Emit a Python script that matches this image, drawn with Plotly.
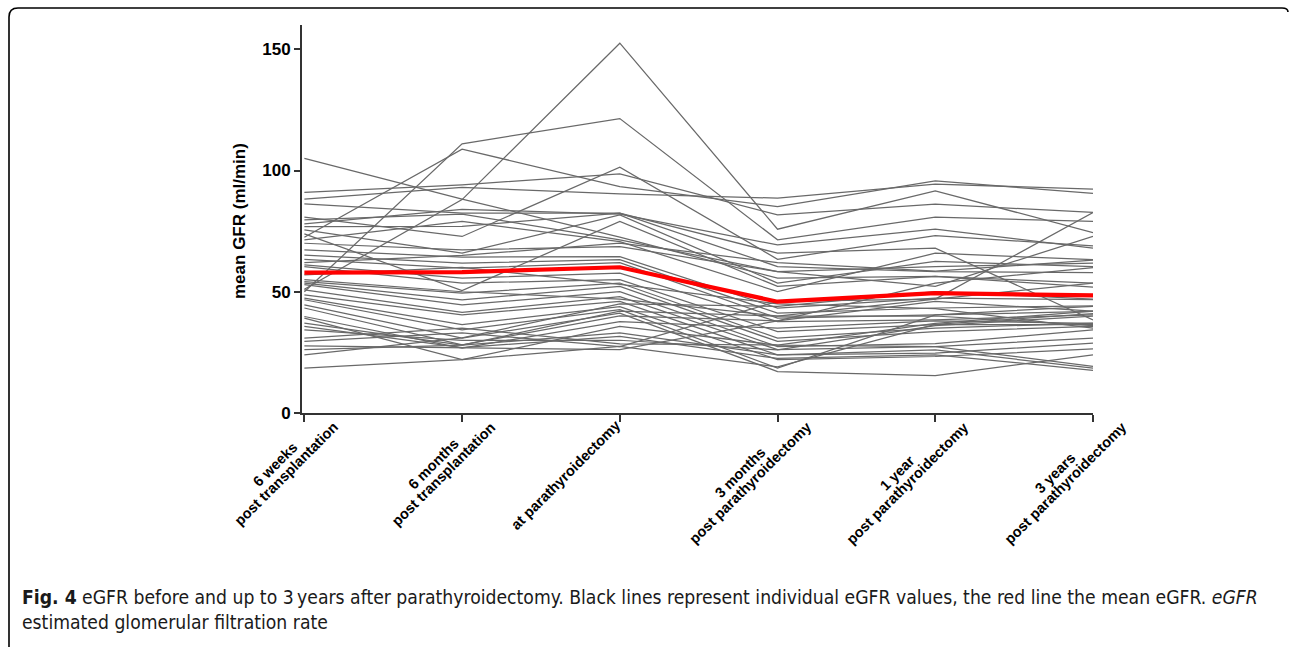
import plotly.graph_objects as go

categories = ["6 weeks post transplantation", "6 months post transplantation",
              "at parathyroidectomy", "3 months post parathyroidectomy",
              "1 year post parathyroidectomy", "3 years post parathyroidectomy"]
label_lines = [["6 weeks", "post transplantation"], ["6 months", "post transplantation"],
               ["at parathyroidectomy"], ["3 months", "post parathyroidectomy"],
               ["1 year", "post parathyroidectomy"], ["3 years", "post parathyroidectomy"]]

# individual eGFR values per time point (one entry per patient)
wk6_post_tx = [51, 50, 105, 72.5, 91, 88.2, 86.2, 80.8, 79.6, 76.9, 75.5, 73.9, 71.4, 70, 67.3,
               65.1, 63.4, 61.1, 60.4, 54.2, 53.6, 52.9, 50.8, 48.7, 47.4, 46.7, 44.6, 43.3, 39.8,
               39.1, 37.1, 35.7, 34.3, 30.9, 29.5, 27.7, 26.1, 24.0, 18.5, 62.0, 57.0, 78.0, 55.0]
mo6_post_tx = [88, 111, 88.2, 108.8, 94.1, 93, 82.4, 72.8, 82, 77, 65.9, 50.5, 79, 67.3, 64.3,
               61.8, 59.7, 55.6, 53.6, 49.4, 46.7, 44.6, 41.5, 40.5, 36.4, 34.3, 30.9, 28.1, 26.8,
               22.0, 28.0, 27.0, 30.0, 35.0, 33.0, 27.0, 28.0, 31.0, 22.0, 65.0, 60.0, 84.0, 50.0]
at_ptx = [152.5, 121.4, 72.5, 93.4, 98.6, 90.4, 82.4, 101.4, 71.4, 82.4, 81.7, 79.0, 70.7, 68.6, 64.5,
          63.2, 62.0, 57.7, 55.0, 53.6, 52.2, 50.0, 48.0, 46.0, 43.9, 42.6, 41.2, 40.0, 37.7,
          35.7, 33.0, 31.6, 30.0, 28.5, 27.4, 26.1, 42.0, 45.0, 27.5, 70.0, 53.0, 82.0, 47.0]
mo3_post_ptx = [75.8, 71.4, 55.6, 85.1, 81.7, 88.6, 65.9, 63.4, 58.3, 60.4, 53.6, 52.2, 50.1, 58.3, 43.3,
                41.2, 39.1, 37.7, 33.6, 30.9, 29.5, 27.4, 26.1, 24.0, 22.0, 18.5, 17.1, 38.0, 35.0,
                28.0, 24.0, 22.5, 26.0, 28.0, 46.0, 38.0, 40.0, 44.0, 19.0, 62.0, 45.0, 69.3, 40.0]
yr1_post_ptx = [91.6, 80.8, 56.3, 95.7, 86.1, 94.4, 68.0, 73.1, 60.4, 58.3, 62.5, 56.3, 65.9, 52.2, 47.4,
                43.3, 40.5, 38.4, 36.4, 35.0, 33.6, 28.6, 27.4, 24.7, 23.3, 40.5, 15.4, 46.0, 38.0,
                27.4, 26.0, 24.0, 36.0, 37.0, 47.0, 53.6, 40.0, 50.0, 36.5, 58.5, 43.0, 75.8, 47.0]
yr3_post_ptx = [74.4, 79.0, 51.9, 90.6, 82.7, 92.3, 38.4, 68.9, 61.8, 57.9, 60.4, 53.6, 63.2, 72.8, 46.7,
                44.2, 41.9, 40.5, 36.4, 37.1, 35.7, 34.3, 30.9, 28.8, 26.4, 44.0, 24.0, 42.0, 37.0,
                19.2, 18.5, 17.6, 40.0, 42.0, 53.6, 60.0, 36.0, 47.0, 41.0, 63.0, 35.0, 68.0, 82.7]

mean_egfr = [57.9, 58.1, 60.1, 45.9, 49.4, 48.5]

y_ticks = [0, 50, 100, 150]

series = [wk6_post_tx, mo6_post_tx, at_ptx, mo3_post_ptx, yr1_post_ptx, yr3_post_ptx]
n_pat = len(wk6_post_tx)

fig = go.Figure()
for i in range(n_pat):
    fig.add_trace(go.Scatter(
        x=categories, y=[s[i] for s in series], mode="lines",
        line=dict(color="rgb(105,105,105)", width=1.25),
        hoverinfo="skip", showlegend=False))
fig.add_trace(go.Scatter(
    x=categories, y=mean_egfr, mode="lines",
    line=dict(color="#ff0000", width=4.2), showlegend=False))

W, H = 1290, 647
L, R, T, B = 302, 197, 25, 234
pw, ph = W - L - R, H - T - B


def px(xp):
    return (xp - L) / pw


def py(yp):
    return (H - B - yp) / ph


fig.update_layout(
    width=W, height=H,
    margin=dict(l=L, r=R, t=T, b=B),
    paper_bgcolor="white", plot_bgcolor="white",
    font=dict(family="Liberation Sans, Arial, sans-serif", color="black"),
)
fig.update_xaxes(
    type="category", range=[-0.015, 5.0], showgrid=False, zeroline=False,
    showline=True, linecolor="#333333", linewidth=2,
    ticks="outside", ticklen=7, tickwidth=2, tickcolor="#333333",
    showticklabels=False,
)
fig.update_yaxes(
    range=[0, 160], tickvals=y_ticks, showgrid=False, zeroline=False,
    showline=True, linecolor="#333333", linewidth=2,
    ticks="outside", ticklen=6, tickwidth=2, tickcolor="#333333",
    tickfont=dict(size=17, weight="bold", color="black"),
)

# rotated, centred two-line category labels (Prism style)
ARIAL_B = {' ': .278, 'a': .556, 'c': .556, 'd': .611, 'e': .556, 'h': .611, 'i': .278, 'k': .556,
           'l': .278, 'm': .889, 'n': .611, 'o': .611, 'p': .611, 'r': .389, 's': .556, 't': .333,
           'w': .778, 'y': .556, '1': .556, '3': .556, '6': .556}
FS = 14.5
LH = 15.0
c45 = 0.7071
for k, lines in enumerate(label_lines):
    w_last = sum(ARIAL_B.get(ch, .6) for ch in lines[-1]) * FS
    ex, ey = (31.0, 12.0) if len(lines) > 1 else (-2.0, 10.0)
    cx2, cy2 = ex - w_last / 2 * c45, ey + w_last / 2 * c45
    centers = []
    for j in range(len(lines)):
        back = len(lines) - 1 - j
        centers.append((cx2 - back * LH * c45, cy2 - back * LH * c45))
    for txt, (cx, cy) in zip(lines, centers):
        fig.add_annotation(
            text=f"<b>{txt}</b>", textangle=-45, showarrow=False,
            xref="x", yref="y", x=k, y=0, xanchor="center", yanchor="middle",
            xshift=cx, yshift=-cy,
            font=dict(size=FS, family="Liberation Sans, Arial, sans-serif", color="black"))

fig.add_annotation(
    text="<b>mean GFR (ml/min)</b>", textangle=-90, showarrow=False,
    xref="paper", yref="paper", x=px(239), y=py(221), xanchor="center", yanchor="middle",
    font=dict(size=17, family="Liberation Sans, Arial, sans-serif", color="black"))

fig.add_annotation(
    text="<b>Fig. 4</b> eGFR before and up to 3\u2009years after parathyroidectomy. Black lines represent "
         "individual eGFR values, the red line the mean eGFR. <i>eGFR</i><br>estimated glomerular filtration rate",
    showarrow=False, align="left",
    xref="paper", yref="paper", x=px(20), y=py(584), xanchor="left", yanchor="top",
    font=dict(size=19.2, family="Liberation Sans Narrow, DejaVu Sans Condensed, Open Sans, sans-serif",
              color="#1a1a1a"))

# rounded figure frame (open at bottom, as in the source)
r = 9
x0, x1 = px(9), px(1288)
yt, yb = py(8), py(647)
path = (f"M {x0},{yb} L {x0},{py(8 + r)} Q {x0},{yt} {px(9 + r)},{yt} "
        f"L {px(1282)},{yt} Q {x1},{yt} {x1},{py(12)}")
fig.add_shape(type="path", path=path, xref="paper", yref="paper",
              line=dict(color="black", width=1.6))

fig.write_html("out.html", config={"displayModeBar": False},
               post_script="document.body.style.margin='0';document.body.style.overflow='hidden';")
